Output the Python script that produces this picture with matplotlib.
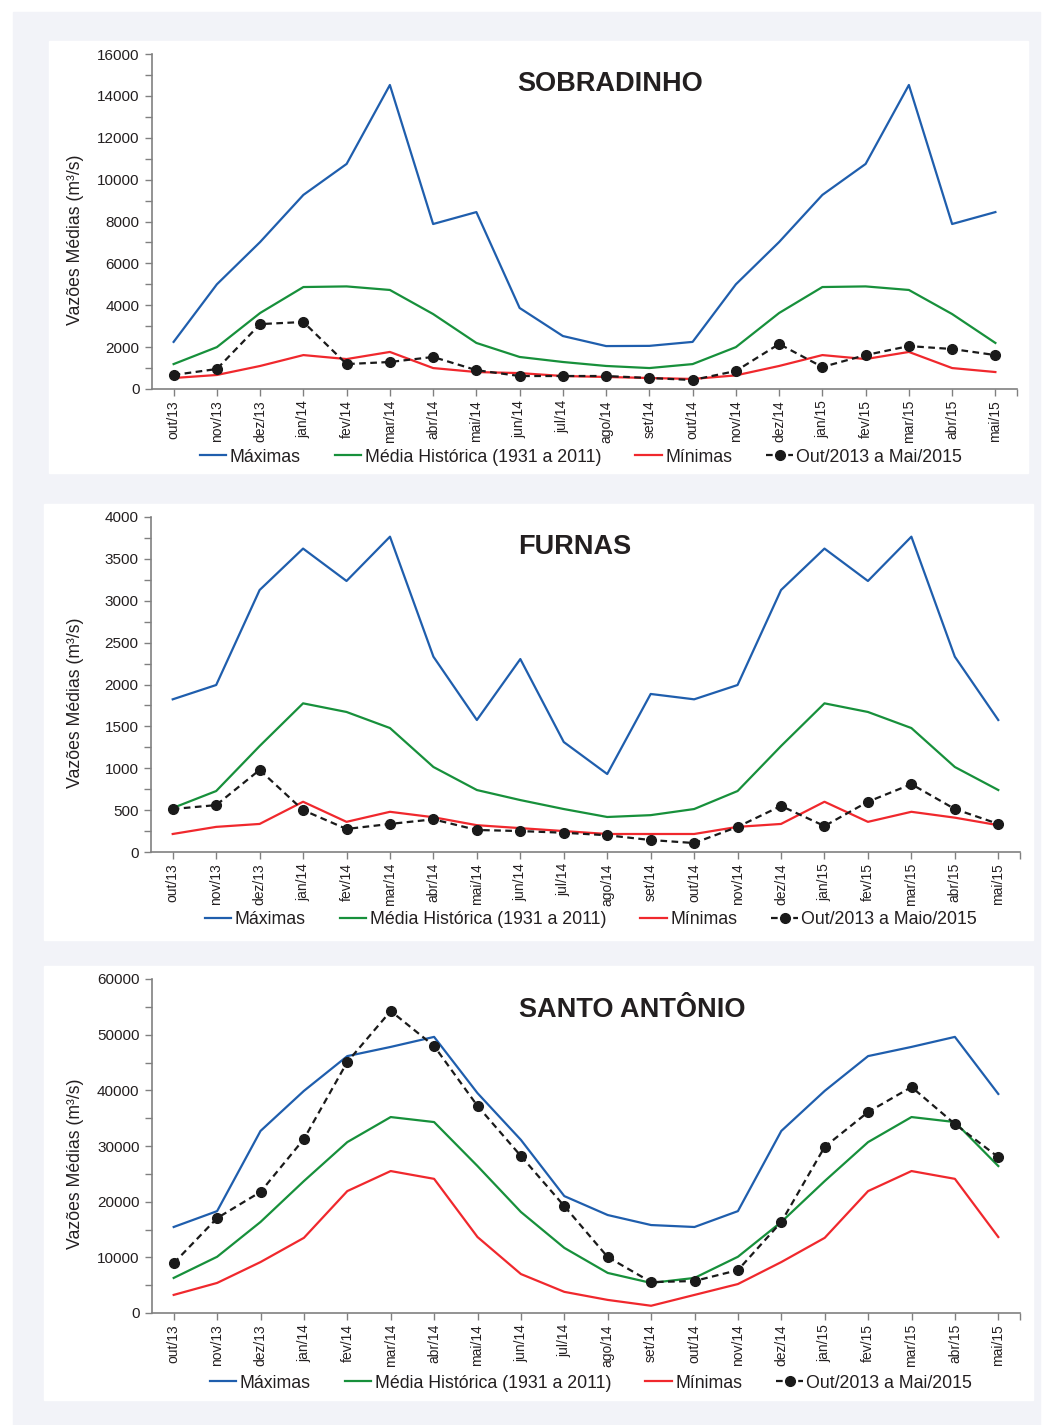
import matplotlib.pyplot as plt
from matplotlib.patches import Rectangle
from matplotlib.ticker import MultipleLocator

plt.rcParams['font.family'] = ['Liberation Sans', 'DejaVu Sans']

months = ['out/13', 'nov/13', 'dez/13', 'jan/14', 'fev/14', 'mar/14', 'abr/14',
          'mai/14', 'jun/14', 'jul/14', 'ago/14', 'set/14', 'out/14', 'nov/14',
          'dez/14', 'jan/15', 'fev/15', 'mar/15', 'abr/15', 'mai/15']

# Sobradinho
sob_max = [2250, 5000, 7020, 9270, 10750, 14520, 7880, 8450, 3870, 2530,
           2050, 2060, 2250, 5000, 7020, 9270, 10750, 14520, 7880, 8450]
sob_med = [1190, 2000, 3630, 4870, 4900, 4730, 3580, 2200, 1530, 1290,
           1100, 1000, 1190, 2000, 3630, 4870, 4900, 4730, 3580, 2200]
sob_min = [525, 670, 1100, 1620, 1430, 1770, 1000, 810, 760, 620,
           575, 525, 480, 650, 1100, 1620, 1430, 1770, 1000, 810]
sob_obs = [670, 955, 3100, 3200, 1190, 1290, 1530, 900, 620, 620,
           620, 525, 430, 860, 2150, 1050, 1620, 2050, 1910, 1620]

# Furnas
fur_max = [1823, 1994, 3128, 3623, 3236, 3765, 2332, 1576, 2304, 1313,
           931, 1887, 1823, 1994, 3128, 3623, 3236, 3765, 2332, 1576]
fur_med = [525, 728, 1265, 1775, 1672, 1480, 1015, 740, 620, 513,
           418, 440, 513, 728, 1265, 1775, 1672, 1480, 1015, 740]
fur_min = [215, 300, 335, 600, 360, 480, 415, 320, 285, 250,
           215, 215, 215, 300, 335, 600, 360, 480, 410, 320]
fur_obs = [513, 560, 980, 500, 275, 335, 390, 263, 250, 230,
           200, 143, 107, 300, 550, 310, 600, 810, 513, 335]

# Santo Antonio
sa_max = [15450, 18300, 32700, 39900, 46150, 47800, 49600, 39500, 31100, 21000,
          17600, 15800, 15450, 18300, 32700, 39900, 46150, 47800, 49600, 39350]
sa_med = [6300, 10100, 16350, 23700, 30700, 35200, 34300, 26400, 18150, 11700,
          7200, 5400, 6300, 10100, 16350, 23700, 30700, 35200, 34300, 26400]
sa_min = [3250, 5400, 9150, 13500, 21900, 25500, 24100, 13650, 7000, 3800,
          2350, 1300, 3250, 5200, 9150, 13500, 21900, 25500, 24100, 13650]
sa_obs = [8950, 17050, 21750, 31250, 45100, 54250, 47960, 37200, 28200, 19200,
          10050, 5550, 5750, 7700, 16350, 29850, 36100, 40600, 33950, 28000]

W, H = 1042, 1425
fig = plt.figure(figsize=(W / 100, H / 100), dpi=100)


def box(x0, y0, x1, y1, color):
    fig.patches.append(Rectangle((x0 / W, 1 - y1 / H), (x1 - x0) / W, (y1 - y0) / H,
                                 transform=fig.transFigure, color=color, zorder=-10))


box(13, 12, 1040, 1425, '#f2f3f8')
box(49, 41, 1028, 473, 'white')
box(44, 504, 1033, 940, 'white')
box(44, 966, 1033, 1400, 'white')


def panel(left, top, bottom, right, series, ymax, major, minor, title, title_xy,
          legend_xy, obs_label):
    ax = fig.add_axes([left / W, 1 - bottom / H, (right - left) / W, (bottom - top) / H])
    ax.patch.set_alpha(0)
    x = list(range(len(months)))
    mx, md, mn, ob = series
    ax.plot(x, mx, color='#1f5ead', lw=1.6, label='Máximas')
    ax.plot(x, md, color='#17903b', lw=1.6, label='Média Histórica (1931 a 2011)')
    ax.plot(x, mn, color='#f0282d', lw=1.6, label='Mínimas')
    ax.plot(x, ob, color='#1a1a1a', lw=1.6, ls='--', dashes=(3, 2),
            marker='o', ms=7, label=obs_label)
    ax.set_xlim(-0.5, len(months) - 0.5)
    ax.set_ylim(0, ymax)
    ax.yaxis.set_major_locator(MultipleLocator(major))
    ax.yaxis.set_minor_locator(MultipleLocator(minor))
    ax.set_xticks(x)
    ax.set_xticklabels(months, rotation=90, fontsize=10, color='#231f20')
    ax.set_xticks([len(months) - 0.5], minor=True)
    ax.tick_params(axis='y', labelsize=11, labelcolor='#231f20', pad=4)
    ax.tick_params(which='both', length=5, color='#808080', width=1)
    ax.tick_params(axis='x', pad=3)
    for s in ['top', 'right']:
        ax.spines[s].set_visible(False)
    for s in ['left', 'bottom']:
        ax.spines[s].set_color('#808080')
        ax.spines[s].set_linewidth(1.2)
    fig.text(75 / W, 1 - (top + bottom + 36) / 2 / H, 'Vazões Médias (m³/s)',
             rotation=90, ha='center', va='center', fontsize=12.7, color='#231f20')
    fig.text(title_xy[0] / W, 1 - title_xy[1] / H, title, ha='center', va='center',
             fontsize=19.5, fontweight='bold', color='#231f20')
    fig.legend(*ax.get_legend_handles_labels(), loc='center',
               bbox_to_anchor=(legend_xy[0] / W, 1 - legend_xy[1] / H),
               ncol=4, frameon=False, fontsize=12.8, handlelength=1.5,
               handletextpad=0.2, columnspacing=1.9, labelcolor='#231f20')
    return ax


panel(152, 54, 389, 1017, (sob_max, sob_med, sob_min, sob_obs), 16000, 2000, 1000,
      'SOBRADINHO', (610, 84), (581, 457), 'Out/2013 a Mai/2015')
panel(151, 517, 852, 1020, (fur_max, fur_med, fur_min, fur_obs), 4000, 500, 250,
      'FURNAS', (575, 547), (591, 920), 'Out/2013 a Maio/2015')
panel(152, 979, 1313, 1020, (sa_max, sa_med, sa_min, sa_obs), 60000, 10000, 5000,
      'SANTO ANTÔNIO', (632, 1010), (591, 1383), 'Out/2013 a Mai/2015')

fig.savefig('out.png', dpi=100)
